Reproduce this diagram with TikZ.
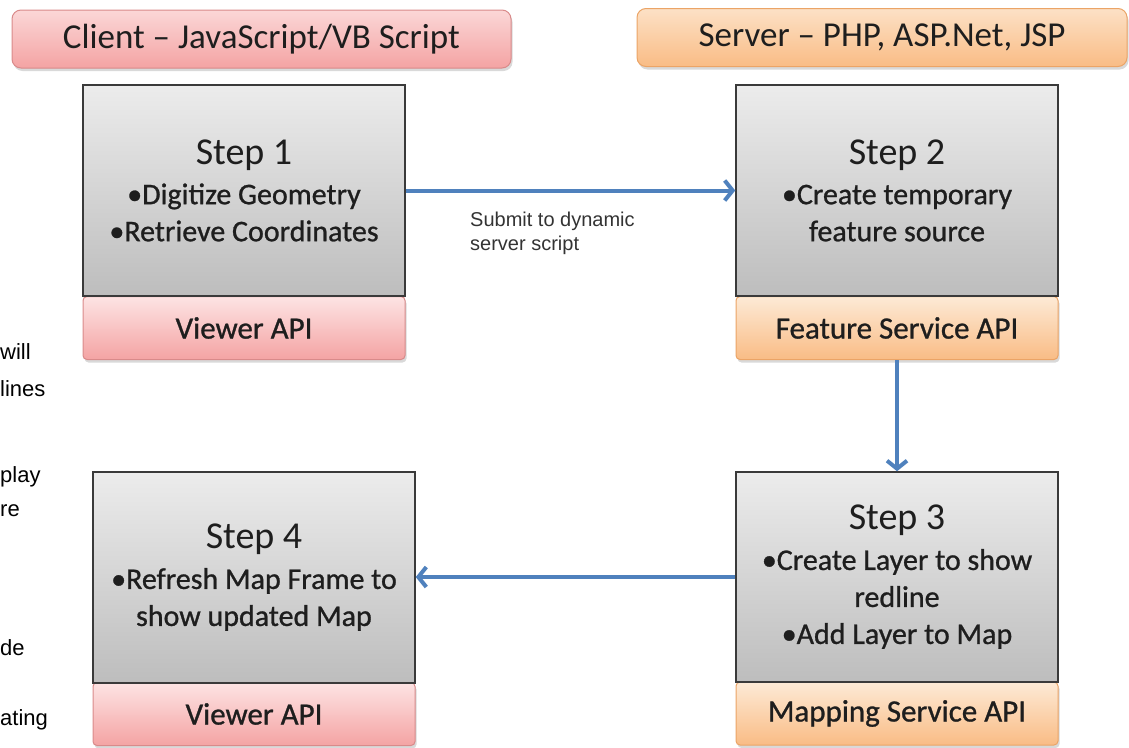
\documentclass[tikz,border=0pt]{standalone}
\usepackage{fontspec}
\setmainfont{Carlito}
\newfontfamily\semibold[FakeBold=0.9]{Carlito}
\newfontfamily\arialfont{Liberation Sans}
\usetikzlibrary{arrows.meta,shadows}
\definecolor{graytop}{HTML}{ECECEC}
\definecolor{graybot}{HTML}{BDBDBD}
\definecolor{stepborder}{HTML}{3A3A3A}
\definecolor{pinktop}{HTML}{FDE4E4}
\definecolor{pinkbot}{HTML}{F4A3A3}
\definecolor{pinkborder}{HTML}{D98A8A}
\definecolor{orangetop}{HTML}{FDEAD6}
\definecolor{orangebot}{HTML}{F9BC85}
\definecolor{orangeborder}{HTML}{EBA466}
\definecolor{arrowblue}{HTML}{4F81BD}
\definecolor{txt}{HTML}{1E1E1E}
\newcommand{\steptitle}[1]{{\fontsize{38}{38}\selectfont\normalfont #1}\\[3pt]}
\begin{document}
\begin{tikzpicture}[x=1pt,y=-1pt,
  every node/.style={text=txt},
  softshadow/.style={drop shadow={shadow xshift=1.5pt,shadow yshift=-3pt,opacity=0.25,fill=black!60}},
  stepbox/.style={draw=stepborder,line width=1.5pt,top color=graytop,bottom color=graybot,
    minimum width=322pt,minimum height=211pt,inner sep=0pt,align=center,
    font=\semibold\fontsize{30}{37}\selectfont},
  pinkapi/.style={draw=pinkborder,line width=1pt,rounded corners=4pt,top color=pinktop,bottom color=pinkbot,
    minimum width=322pt,minimum height=63pt,inner sep=0pt,font=\semibold\fontsize{31}{34}\selectfont,softshadow},
  orangeapi/.style={pinkapi,draw=orangeborder,top color=orangetop,bottom color=orangebot},
  pinkhead/.style={draw=pinkborder,line width=1pt,rounded corners=9pt,top color=pinktop!80!pinkbot,bottom color=pinkbot,
    minimum height=58pt,inner sep=0pt,font=\fontsize{35}{38}\selectfont,softshadow},
  orangehead/.style={pinkhead,draw=orangeborder,top color=orangetop!80!orangebot,bottom color=orangebot},
  flow/.style={draw=arrowblue,line width=4pt,-{Straight Barb[length=8pt,width=20pt,line width=4pt]}},
  frag/.style={anchor=base west,inner sep=0pt,font=\arialfont\fontsize{22}{25}\selectfont,text=black}
]
\useasboundingbox (0,0) rectangle (1129,747);

% headers
\node[pinkhead,minimum width=499pt] (client) at (261.5,39) {Client – JavaScript/VB Script};
\node[orangehead,minimum width=490pt] (server) at (882,37.5) {Server – PHP, ASP.Net, JSP};

% API boxes
\node[pinkapi] (v1) at (244,328) {Viewer API};
\node[orangeapi] (feat) at (897,328) {Feature Service API};
\node[orangeapi] (map) at (897,713.5) {Mapping Service API};
\node[pinkapi] (v2) at (254,714) {Viewer API};

% step boxes
\node[stepbox] (s1) at (244,190.5) {\steptitle{Step 1}•Digitize Geometry\\•Retrieve Coordinates};
\node[stepbox] (s2) at (897,190.5) {\steptitle{Step 2}•Create temporary\\feature source};
\node[stepbox,minimum height=210pt] (s3) at (897,577) {\steptitle{Step 3}•Create Layer to show\\redline\\•Add Layer to Map};
\node[stepbox] (s4) at (254,577.5) {\steptitle{Step 4}•Refresh Map Frame to\\show updated Map};

% connectors
\draw[flow] (s1.east) -- (s2.west);
\draw[flow] (feat.south) -- (s3.north);
\draw[flow] (s3.west) -- (s4.east |- s3.west);

% connector label
\node[anchor=north west,inner sep=0pt,align=left,text=black!80,
  font=\arialfont\fontsize{20}{24}\selectfont] (lbl) at (470,212) {Submit to dynamic\\server script};

% cut-off text at the left edge
\node[frag] (f1) at (0,359) {will};
\node[frag] (f2) at (0,396) {lines};
\node[frag] (f3) at (0,482) {play};
\node[frag] (f4) at (0,516) {re};
\node[frag] (f5) at (0,655) {de};
\node[frag] (f6) at (0,725) {ating};
\end{tikzpicture}
\end{document}
